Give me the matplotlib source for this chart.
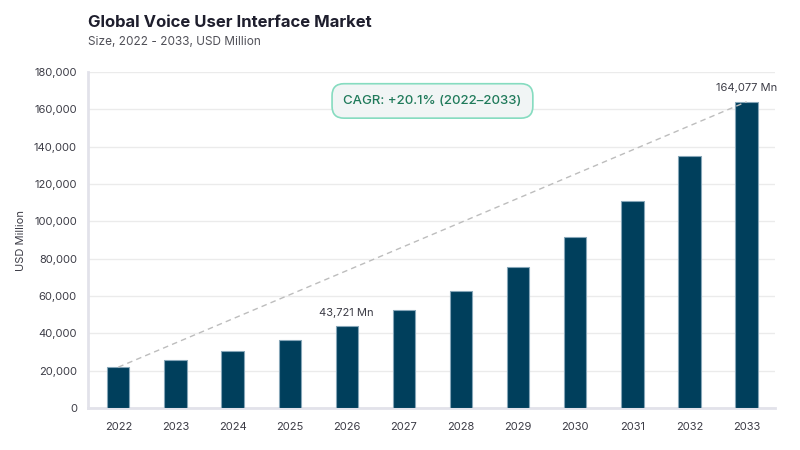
import matplotlib
matplotlib.use("Agg")
import matplotlib.pyplot as plt

years = ["2022", "2023", "2024", "2025", "2026", "2027", "2028", "2029", "2030", "2031", "2032", "2033"]
values = [21883, 25800, 30600, 36400, 43721, 52400, 62800, 75500, 91600, 110900, 135000, 164077]
yticks = [0, 20000, 40000, 60000, 80000, 100000, 120000, 140000, 160000, 180000]
labeled = {"2026": "43,721 Mn", "2033": "164,077 Mn"}
title = "Global Voice User Interface Market"
subtitle = "Size, 2022 - 2033, USD Million"
cagr_text = "CAGR: +20.1% (2022–2033)"

plt.rcParams['font.family'] = ['Inter', 'DejaVu Sans']

fig = plt.figure(figsize=(8, 4.5), dpi=100)
ax = fig.add_axes([0.11, 0.0933, 0.859, 0.7467])

x = list(range(len(years)))
ax.bar(x, values, width=0.39, color="#003f5c", edgecolor="#86a6b8", linewidth=0.8, zorder=3)

ax.plot([x[0], x[-1]], [values[0], values[-1]], linestyle=(0, (4, 3)), color="#bdbdbd", linewidth=1, zorder=4)

for i, y in enumerate(years):
    if y in labeled:
        ax.text(x[i], values[i] + 4500, labeled[y], ha="center", va="bottom", fontsize=8, color="#3c3c46", zorder=5)

ax.set_xlim(-0.53, 11.5)
ax.set_ylim(0, 180000)
ax.set_yticks(yticks)
ax.set_yticklabels([f"{v:,}" for v in yticks])
ax.set_xticks(x)
ax.set_xticklabels(years)
ax.tick_params(axis="both", length=0, labelsize=8, colors="#3c3c46")
ax.tick_params(axis="x", pad=10)
ax.tick_params(axis="y", pad=8)
ax.grid(axis="y", color="#ebebeb", linewidth=1, zorder=0)
for s in ["top", "right"]:
    ax.spines[s].set_visible(False)
ax.spines["left"].set_color("#e2e2ea")
ax.spines["left"].set_linewidth(2)
ax.spines["bottom"].set_color("#e2e2ea")
ax.spines["bottom"].set_linewidth(2)
ax.set_ylabel("USD Million", fontsize=8, color="#3c3c46", labelpad=6)

ax.text(5.5, 164500, cagr_text, ha="center", va="center", fontsize=9.5, fontweight="medium", color="#1f7a5a", zorder=6,
        bbox=dict(boxstyle="round,pad=0.85,rounding_size=0.9", facecolor="#f1f5f5", edgecolor="#86dcc0", linewidth=1.2))

fig.text(0.11, 0.951, title, fontsize=12, fontweight="bold", color="#1e1e2d", ha="left", va="center")
fig.text(0.11, 0.907, subtitle, fontsize=8.5, color="#505058", ha="left", va="center")

fig.savefig("out.png", dpi=100)
